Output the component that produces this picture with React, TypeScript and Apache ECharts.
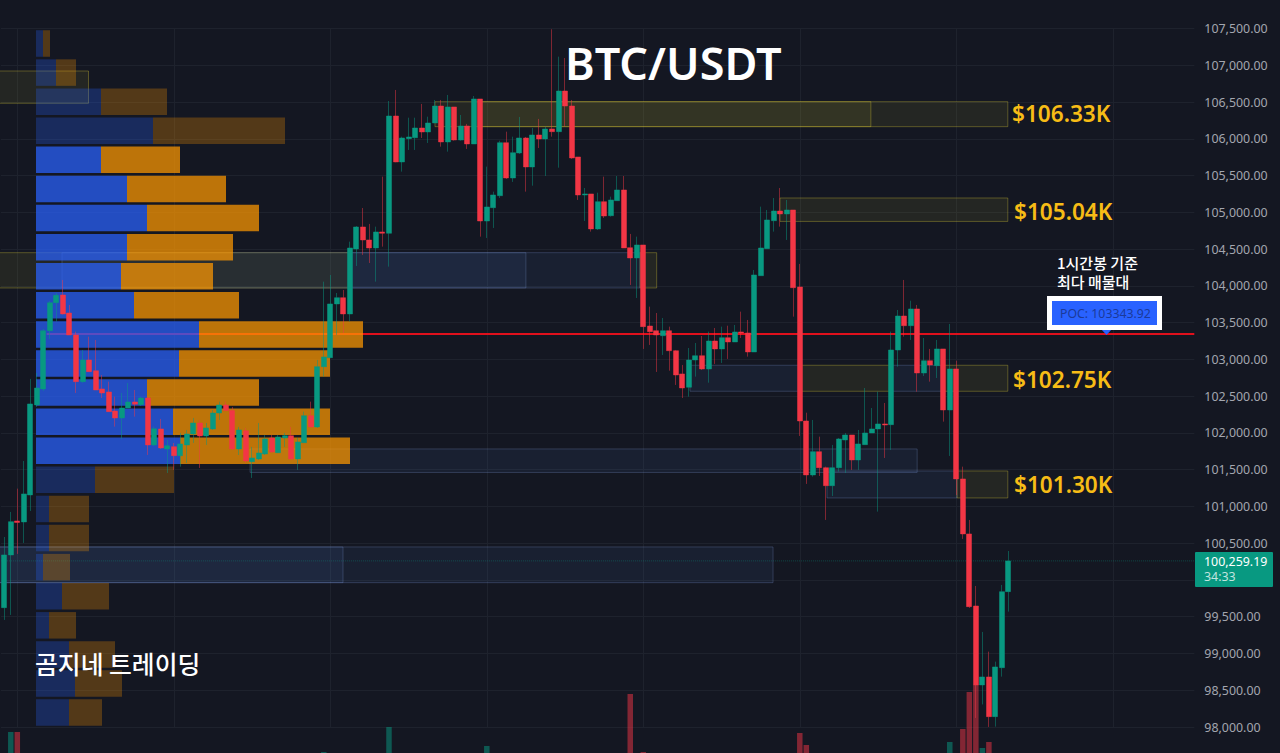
import * as echarts from "echarts";
import { useEffect, useRef } from "react";

// open, close, low, high per hourly bar
const candles = [
  [99623, 100340, 99456, 100584], [100340, 100793, 99524, 100925], [100802, 100782, 100354, 101242], [100789, 101170, 100503, 101618],
  [101156, 102394, 100938, 102734], [102380, 102611, 102353, 102815], [102598, 103390, 102570, 103414], [103390, 103771, 103278, 103794],
  [103771, 103872, 103513, 103903], [103876, 103618, 103611, 104080], [103631, 103332, 103332, 103740], [103332, 102697, 102543, 103377],
  [102697, 102992, 102679, 103128], [102992, 102833, 102833, 103309], [102846, 102584, 102584, 103264], [102598, 102543, 102475, 102788],
  [102557, 102289, 102289, 102697], [102298, 102203, 102085, 102493], [102203, 102339, 101918, 102543], [102339, 102421, 102339, 102679],
  [102421, 102390, 102221, 102584], [102384, 102475, 102366, 102493], [102475, 101836, 101700, 102493], [101836, 102058, 101822, 102085],
  [102054, 101795, 101782, 102190], [101782, 101826, 101455, 101904], [101813, 101690, 101496, 101863], [101690, 101850, 101541, 101999],
  [101836, 101986, 101591, 102040], [101986, 102135, 101863, 102203], [102135, 101958, 101523, 102176], [101958, 102067, 101836, 102135],
  [102054, 102271, 102040, 102312], [102271, 102380, 102176, 102425], [102380, 102303, 102298, 102425], [102303, 101782, 101768, 102353],
  [101782, 102040, 101700, 102081], [102030, 101618, 101591, 102067], [101609, 101659, 101387, 101809], [101646, 101727, 101632, 102135],
  [101714, 101918, 101700, 101972], [101931, 101741, 101727, 101972], [101731, 101945, 101727, 101972], [101931, 101962, 101809, 101999],
  [101962, 101646, 101632, 102081], [101646, 101877, 101496, 101931], [101867, 102234, 101863, 102289], [102234, 102081, 102081, 102425],
  [102081, 102901, 102067, 102992], [102901, 103033, 102765, 104057], [103023, 103754, 103019, 104148], [103754, 103839, 103332, 103903],
  [103839, 103618, 103359, 103944], [103618, 104515, 103513, 104601], [104502, 104801, 104270, 104814], [104801, 104624, 104420, 105059],
  [104624, 104515, 104311, 104842], [104515, 104733, 104057, 104805], [104733, 104715, 104533, 105485], [104715, 106310, 104261, 106514],
  [106310, 105685, 105681, 106664], [105685, 106011, 105553, 106029], [106002, 106025, 105848, 106287], [106015, 106147, 105848, 106287],
  [106147, 106093, 106011, 106474], [106093, 106215, 105943, 106301], [106215, 106446, 106215, 106528], [106446, 105957, 105893, 106528],
  [105957, 106433, 105825, 106596], [106433, 105984, 105975, 106433], [105984, 106174, 105975, 106324], [106174, 105930, 105862, 106202],
  [105930, 106542, 105930, 106582], [106542, 104882, 104669, 106542], [104882, 105073, 104651, 105621], [105063, 105236, 104787, 105281],
  [105226, 105947, 105195, 105974], [105947, 105467, 105454, 106097], [105467, 105811, 105413, 106029], [105807, 106011, 105794, 106297],
  [106011, 105617, 105281, 106025], [105617, 106052, 105362, 106147], [106052, 105998, 105875, 106270], [105998, 106134, 105494, 106165],
  [106134, 106097, 106029, 107490], [106097, 106650, 105607, 107117], [106650, 106446, 106165, 107099], [106446, 105739, 105726, 106528],
  [105753, 105236, 105168, 105753], [105236, 105250, 104882, 105331], [105250, 104774, 104737, 105250], [104774, 105145, 104760, 105267],
  [105145, 104950, 104923, 105485], [104954, 105168, 104941, 105213], [105158, 105304, 105158, 105494], [105304, 104515, 104515, 105494],
  [104519, 104379, 104012, 104706], [104379, 104556, 103835, 104669], [104556, 103445, 103142, 104556], [103454, 103377, 103196, 103717],
  [103390, 103332, 102829, 103631], [103322, 103390, 103060, 103563], [103390, 103118, 102846, 103445], [103118, 102788, 102652, 103128],
  [102802, 102611, 102475, 102924], [102621, 102992, 102493, 103155], [102992, 103050, 102765, 103223], [103050, 102870, 102856, 103318],
  [102870, 103250, 102683, 103377], [103250, 103142, 102938, 103427], [103142, 103295, 102951, 103445], [103295, 103237, 103006, 103458],
  [103237, 103373, 103237, 103468], [103373, 103359, 103291, 103649], [103359, 103101, 103037, 103536], [103101, 104148, 103101, 104216],
  [104138, 104515, 104138, 105077], [104506, 104896, 104506, 105032], [104886, 105018, 104737, 105195], [105018, 104978, 104805, 105331],
  [104978, 105032, 104624, 105168], [105032, 103975, 103581, 105032], [103985, 102162, 101958, 104298], [102162, 101428, 101306, 102275],
  [101428, 101745, 101405, 102176], [101745, 101527, 101414, 101949], [101527, 101282, 100816, 101541], [101282, 101527, 101142, 101836],
  [101527, 101918, 101473, 101931], [101904, 101972, 101455, 101999], [101972, 101632, 101496, 101972], [101632, 101850, 101496, 102040],
  [101840, 101999, 101836, 102611], [101999, 102054, 101999, 102339], [102054, 102122, 100929, 102561], [102122, 102108, 101659, 102407],
  [102112, 103128, 101768, 103377], [103128, 103590, 102901, 103672], [103590, 103458, 103309, 104080], [103458, 103686, 103264, 103798],
  [103686, 102815, 102561, 103740], [102815, 102982, 102774, 103291], [102982, 102924, 102697, 103142], [102914, 103142, 102747, 103264],
  [103142, 102312, 102153, 103142], [102312, 102870, 101686, 103482], [102870, 101374, 101156, 102982], [101374, 100626, 100558, 101541],
  [100626, 99637, 99619, 100816], [99646, 98572, 98123, 99918], [98572, 98681, 98307, 99293], [98681, 98141, 98001, 99025],
  [98141, 98817, 98005, 98889], [98807, 99841, 98685, 99932], [99841, 100259.19, 99569, 100394],
];

// bar number, volume: only the bars tall enough to show above the page edge
const volumes = [
  [1, 21], [2, 21], [49, 1], [59, 26], [74, 7], [96, 59], [98, 1], [122, 20],
  [123, 8], [145, 11], [147, 24], [148, 61], [149, 68], [150, 5], [151, 11],
];

// volume profile, one row per price level
const profileLevels = [
  107296, 106900, 106505, 106109, 105714, 105318, 104922, 104527, 104131, 103735, 103340, 102944,
  102548, 102153, 101757, 101361, 100966, 100570, 100174, 99779, 99383, 98987, 98592, 98196,
];
const profileBuy = [7, 20, 65, 117, 65, 91, 111, 91, 85, 98, 163, 143, 111, 137, 144, 59, 13, 13, 7, 26, 13, 33, 39, 33];
const profileSell = [7, 20, 66, 132, 79, 99, 112, 106, 92, 105, 164, 151, 112, 157, 170, 79, 40, 40, 27, 47, 27, 46, 47, 33];
const valueAreaLevels = [105714, 105318, 104922, 104527, 104131, 103735, 103340, 102944, 102548, 102153, 101757];

// from bar, to bar, top price, bottom price
const supplyZones = [
  [-1, 13.42, 106922, 106483],
  [-1, 53.5, 104451, 103971],
  [98, 100.55, 104451, 103971],
  [66.55, 154.4, 106505, 106165],
  [73.45, 133.4, 106505, 106165],
  [119.46, 154.4, 105195, 104876],
  [122.5, 136.3, 102920, 102566],
  [144.45, 154.4, 102920, 102566],
  [146.6, 154.4, 101482, 101115],
];
const demandZones = [
  [9.35, 53.5, 104451, 103971],
  [53.5, 98, 104451, 103971],
  [53.5, 80.5, 104451, 103971],
  [105.66, 122.5, 102920, 102566],
  [136.3, 144.45, 102920, 102566],
  [38.2, 140.5, 101782, 101462],
  [126.67, 146.6, 101482, 101115],
  [-1, 52.45, 100449, 99963],
  [-1, 118.4, 100449, 99963],
];

const pocPrice = 103343.92;
const lastPrice = 100259.19;
const barSlots = 183;
// covered by the last price tag in the chart
const hiddenTickLabel = 100000;

const UP = "#089981";
const DOWN = "#f23645";
const BG = "#141722";
const GRID_LINE = "#1e222d";
const GOLD = "#f7bc16";
const UI_FONT = "'Noto Sans', sans-serif";
const KR_FONT = "'Noto Sans CJK KR', sans-serif";

const barNames = Array.from({ length: barSlots }, (_, i) => String(i));

function zoneSeries(zones: number[][], fill: string, stroke: string, z: number) {
  return {
    type: "custom",
    xAxisIndex: 1,
    yAxisIndex: 0,
    z,
    silent: true,
    data: zones,
    renderItem: (_params: any, api: any) => {
      const [x1, y1] = api.coord([api.value(0), api.value(2)]);
      const [x2, y2] = api.coord([api.value(1), api.value(3)]);
      return {
        type: "rect",
        shape: { x: x1, y: y1, width: x2 - x1, height: y2 - y1 },
        style: { fill, stroke, lineWidth: 1 },
      };
    },
  };
}

function profileSeries(values: number[], rgb: string) {
  return {
    type: "bar",
    xAxisIndex: 2,
    yAxisIndex: 1,
    stack: "profile",
    barWidth: 26.5,
    z: 3,
    silent: true,
    data: values.map((value, i) => ({
      value,
      itemStyle: {
        color: `rgba(${rgb},${valueAreaLevels.includes(profileLevels[i]) ? 0.72 : 0.27})`,
      },
    })),
  };
}

function levelLabel(text: string, x: number, y: number) {
  return {
    type: "text",
    x,
    y,
    z: 100,
    style: {
      text,
      fill: GOLD,
      font: `600 22.6px ${UI_FONT}`,
      textVerticalAlign: "middle",
    },
  };
}

function noteLabel(text: string, x: number, y: number, font: string, fill = "#ffffff") {
  return {
    type: "text",
    x,
    y,
    z: 100,
    style: { text, fill, font, textVerticalAlign: "middle" },
  };
}

function getChartOption() {
  return {
    animation: false,
    backgroundColor: BG,
    grid: [
      { left: 1, top: 28.5, width: 1193.3, height: 698.5 },
      { left: 36, top: 28.95, width: 1000, height: 698.2 },
      { left: 1, top: 653, width: 1193.3, height: 100 },
    ],
    xAxis: [
      {
        type: "category",
        gridIndex: 0,
        data: barNames,
        axisLine: { show: false },
        axisTick: { show: false },
        axisLabel: { show: false },
        splitLine: {
          show: true,
          alignWithLabel: true,
          interval: (index: number) => (index - 2) % 24 === 0,
          lineStyle: { color: GRID_LINE, width: 1 },
        },
      },
      { type: "value", gridIndex: 0, min: 0, max: barSlots, show: false },
      { type: "value", gridIndex: 1, min: 0, max: 1000, show: false },
      { type: "category", gridIndex: 2, data: barNames, show: false },
    ],
    yAxis: [
      {
        type: "value",
        gridIndex: 0,
        position: "right",
        min: 98000,
        max: 107500,
        interval: 500,
        axisLine: { show: false },
        axisTick: { show: false },
        axisLabel: {
          margin: 10,
          color: "#a3a6af",
          fontFamily: UI_FONT,
          fontSize: 12.4,
          formatter: (value: number) =>
            value === hiddenTickLabel
              ? ""
              : value.toLocaleString("en-US", { minimumFractionDigits: 2, maximumFractionDigits: 2 }),
        },
        splitLine: { show: true, lineStyle: { color: GRID_LINE, width: 1 } },
      },
      { type: "category", gridIndex: 1, inverse: true, data: profileLevels.map(String), show: false },
      { type: "value", gridIndex: 2, min: 0, max: 100, show: false },
    ],
    series: [
      zoneSeries(supplyZones, "rgba(255,235,59,0.07)", "rgba(255,235,59,0.28)", 1),
      zoneSeries(demandZones, "rgba(100,150,255,0.07)", "rgba(130,160,220,0.26)", 1),
      {
        type: "line",
        xAxisIndex: 1,
        yAxisIndex: 0,
        z: 2,
        silent: true,
        symbol: "none",
        data: [[0, lastPrice], [barSlots, lastPrice]],
        lineStyle: { color: "rgba(8,153,129,0.35)", width: 1, type: "dotted" },
      },
      {
        type: "line",
        xAxisIndex: 1,
        yAxisIndex: 0,
        z: 2,
        silent: true,
        symbol: "none",
        data: [[7, pocPrice], [barSlots, pocPrice]],
        lineStyle: { color: "#e0101c", width: 2 },
      },
      profileSeries(profileBuy, "41,98,255"),
      profileSeries(profileSell, "255,152,0"),
      {
        type: "bar",
        xAxisIndex: 3,
        yAxisIndex: 2,
        z: 4,
        silent: true,
        barWidth: 5.5,
        data: candles.map((c, i) => {
          const vol = volumes.find((v) => v[0] === i);
          return {
            value: vol ? vol[1] : null,
            itemStyle: { color: c[1] >= c[0] ? "rgba(8,153,129,0.5)" : "rgba(242,54,69,0.5)" },
          };
        }),
      },
      {
        type: "candlestick",
        xAxisIndex: 0,
        yAxisIndex: 0,
        z: 5,
        silent: true,
        barWidth: 5.5,
        data: candles,
        itemStyle: {
          color: UP,
          color0: DOWN,
          borderColor: "rgba(8,153,129,0.48)",
          borderColor0: "rgba(242,54,69,0.48)",
          borderWidth: 1,
        },
      },
    ],
    graphic: [
      noteLabel("BTC/USDT", 565, 62, `600 45px ${UI_FONT}`),
      levelLabel("$106.33K", 1012, 113),
      levelLabel("$105.04K", 1014, 211),
      levelLabel("$102.75K", 1013, 379),
      levelLabel("$101.30K", 1014, 484),
      noteLabel("곰지네 트레이딩", 35, 663, `500 24.8px ${KR_FONT}`),
      noteLabel("1시간봉 기준", 1057, 262, `500 15px ${KR_FONT}`),
      noteLabel("최다 매물대", 1057, 281, `500 15px ${KR_FONT}`),
      {
        type: "polygon",
        z: 99,
        shape: { points: [[1101, 329], [1112, 329], [1106.5, 335]] },
        style: { fill: "#2962ff" },
      },
      {
        type: "rect",
        z: 99,
        shape: { x: 1049.5, y: 298.5, width: 110, height: 29 },
        style: { fill: "#2962ff", stroke: "#ffffff", lineWidth: 5 },
      },
      noteLabel("POC: 103343.92", 1060, 313, `12.3px ${UI_FONT}`, "#1b3a9a"),
      {
        type: "rect",
        z: 99,
        shape: { x: 1195, y: 552, width: 78, height: 35, r: 1 },
        style: { fill: UP },
      },
      noteLabel("100,259.19", 1204, 561, `12.4px ${UI_FONT}`),
      noteLabel("34:33", 1204, 576, `12.4px ${UI_FONT}`, "rgba(255,255,255,0.75)"),
    ],
  };
}

export default function App() {
  const chartRef = useRef<HTMLDivElement>(null);
  useEffect(() => {
    const chart = echarts.init(chartRef.current, undefined, { renderer: "svg" });
    chart.setOption(getChartOption() as any);
    return () => {
      chart.dispose();
    };
  }, []);
  return <div ref={chartRef} style={{ position: "fixed", left: 0, top: 0, width: 1280, height: 753 }} />;
}
